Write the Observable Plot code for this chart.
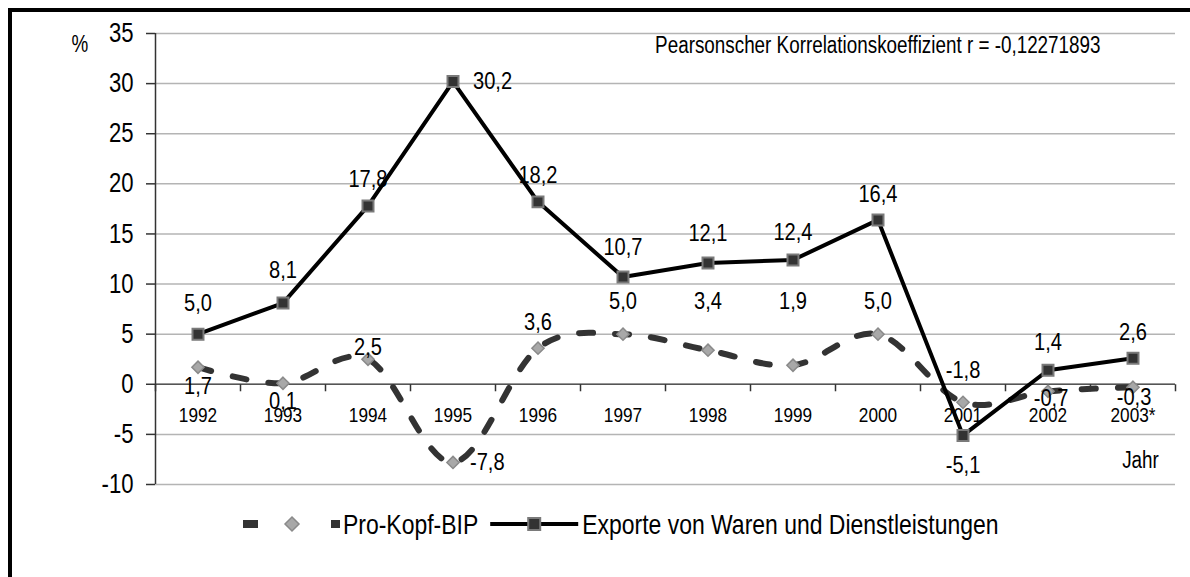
<!DOCTYPE html>
<html><head><meta charset="utf-8">
<script src="https://cdn.jsdelivr.net/npm/d3@7"></script>
<script src="https://cdn.jsdelivr.net/npm/@observablehq/plot@0.6"></script>
<style>
body{margin:0;background:#fff;font-family:"Liberation Sans",Arial,sans-serif;}
#wrap{position:relative;width:1190px;height:577px;overflow:hidden;background:#fff;}
#frame{position:absolute;left:8px;top:8px;width:1250px;height:650px;border-top:4px solid #000;border-left:4px solid #000;}
#chart{position:absolute;left:0;top:0;}
#legend{position:absolute;left:0;top:500px;}
</style></head><body>
<div id="wrap"><div id="frame"></div><div id="chart"></div><div id="legend"></div></div>
<script>
// ---- data ----
const years = ["1992","1993","1994","1995","1996","1997","1998","1999","2000","2001","2002","2003*"];
const proKopfBIP = [1.7, 0.1, 2.5, -7.8, 3.6, 5.0, 3.4, 1.9, 5.0, -1.8, -0.7, -0.3];
const exporte = [5.0, 8.1, 17.8, 30.2, 18.2, 10.7, 12.1, 12.4, 16.4, -5.1, 1.4, 2.6];
const yTicks = [-10, -5, 0, 5, 10, 15, 20, 25, 30, 35];
const seriesNames = ["Pro-Kopf-BIP", "Exporte von Waren und Dienstleistungen"];
const note = "Pearsonscher Korrelationskoeffizient r = -0,12271893";
const yLabel = "%";
const xLabel = "Jahr";

// ---- label offsets in px (style) ----
const bipLabelOffset = [[0,19],[0,18],[0,-12],[17,0],[0,-26],[0,-33],[0,-49],[0,-64],[0,-33],[0,-32],[3,7],[1,10]];
const expLabelOffset = [[0,-31],[0,-33],[0,-27],[20,0],[0,-27],[0,-30],[0,-30],[0,-28],[0,-26],[0,30],[0,-28],[0,-26]];

const fmt = v => v.toFixed(1).replace(".", ",");
const FONT = '"Liberation Sans",Arial,sans-serif';
const NARROW = 0.82;

const bip = years.map((y, i) => ({i, year: y, v: proKopfBIP[i], dx: bipLabelOffset[i][0], dy: bipLabelOffset[i][1]}));
const exp = years.map((y, i) => ({i, year: y, v: exporte[i], dx: expLabelOffset[i][0], dy: expLabelOffset[i][1]}));
const boundaries = d3.range(years.length + 1).map(k => k - 0.5);

const tickSym = {draw(ctx) { ctx.moveTo(0, 0); ctx.lineTo(0, 7); }};

// one text mark per label so each gets its own dx/dy offset
function labelMarks(data) {
  return data.map(d => Plot.text([d], {
    x: "i", y: "v", text: e => fmt(e.v), fontSize: 24.5, fill: "#000",
    dx: d.dx, dy: d.dy, textAnchor: d.dx > 8 ? "start" : "middle"
  }));
}

const chart = Plot.plot({
  width: 1190,
  height: 500,
  marginLeft: 155,
  marginRight: 15,
  marginTop: 33,
  marginBottom: 16,
  style: {fontFamily: FONT, background: "transparent", color: "#000"},
  x: {type: "linear", domain: [-0.5, years.length - 0.5], axis: null},
  y: {domain: [-10, 35], axis: null},
  marks: [
    Plot.gridY(yTicks, {stroke: "#b4b4b4", strokeOpacity: 1, strokeWidth: 1.5}),
    Plot.ruleY([0], {stroke: "#555", strokeWidth: 1.5}),
    Plot.ruleX([-0.5], {stroke: "#333", strokeWidth: 1.5}),
    Plot.axisY(yTicks, {tickSize: 9, tickPadding: 13, fontSize: 27, stroke: "#333", strokeWidth: 1.5, label: null, tickFormat: d => `${d}`}),
    Plot.dot(boundaries, {x: d => d, y: 0, symbol: tickSym, stroke: "#333", strokeWidth: 1.5}),
    Plot.text(years, {x: (d, i) => i, y: 0, text: d => d, dy: 31, fontSize: 21, fill: "#000"}),
    Plot.line(bip, {x: "i", y: "v", curve: "cardinal", tension: 0, stroke: "#333", strokeWidth: 6, strokeDasharray: "14,22"}),
    Plot.line(exp, {x: "i", y: "v", stroke: "#000", strokeWidth: 4}),
    Plot.dot(bip, {x: "i", y: "v", symbol: "diamond2", r: 5.5, fill: "#a8a8a8", stroke: "#8a8a8a", strokeWidth: 1.5}),
    Plot.dot(exp, {x: "i", y: "v", symbol: "square", r: 6.2, fill: "#333", stroke: "#7a7a7a", strokeWidth: 2}),
    ...labelMarks(bip),
    ...labelMarks(exp),
    Plot.text([note], {frameAnchor: "top-right", dx: -75, dy: 12, lineAnchor: "middle", textAnchor: "end", fontSize: 23, fill: "#000"}),
    Plot.text([yLabel], {frameAnchor: "top-left", dx: -84, dy: 11, lineAnchor: "middle", fontSize: 23, fill: "#000"}),
    Plot.text([xLabel], {frameAnchor: "bottom-right", dx: -35, dy: -24, lineAnchor: "middle", textAnchor: "middle", fontSize: 23, fill: "#000"})
  ]
});
document.getElementById("chart").appendChild(chart);

// condense every text horizontally (Arial Narrow look) around its own anchor
function condense(root) {
  root.querySelectorAll("text").forEach(t => {
    let tr = t.getAttribute("transform") || "";
    const x = t.getAttribute("x");
    if (x !== null && !isNaN(+x)) {
      tr += ` translate(${+x},0)`;
      t.removeAttribute("x");
    }
    t.setAttribute("transform", `${tr} scale(${NARROW},1)`.trim());
  });
}
condense(chart);

// ---- legend (svg below the chart) ----
const ns = "http://www.w3.org/2000/svg";
function mk(parent, tag, attrs) { const e = document.createElementNS(ns, tag); for (const k in attrs) e.setAttribute(k, attrs[k]); parent.appendChild(e); return e; }
const lg = document.createElementNS(ns, "svg");
lg.setAttribute("width", 1190); lg.setAttribute("height", 77);
lg.style.fontFamily = FONT;
document.getElementById("legend").appendChild(lg);
const cy = 24;
let x = 243;
mk(lg, "rect", {x: x, y: cy - 4, width: 15, height: 8, fill: "#333"});
mk(lg, "path", {d: `M${x + 49},${cy - 7} L${x + 56},${cy} L${x + 49},${cy + 7} L${x + 42},${cy} Z`, fill: "#a8a8a8", stroke: "#8a8a8a", "stroke-width": 1.5});
mk(lg, "rect", {x: x + 88, y: cy - 4, width: 9, height: 8, fill: "#333"});
x += 100;
function legendText(str) {
  const t = mk(lg, "text", {transform: `translate(${x},${cy}) scale(${NARROW},1)`, "font-size": 28, "dominant-baseline": "central", fill: "#000"});
  t.textContent = str;
  x += t.getComputedTextLength() * NARROW;
}
legendText(seriesNames[0]);
x += 12;
mk(lg, "line", {x1: x, x2: x + 88, y1: cy, y2: cy, stroke: "#000", "stroke-width": 4});
mk(lg, "rect", {x: x + 38, y: cy - 6, width: 12, height: 12, fill: "#333", stroke: "#7a7a7a", "stroke-width": 2});
x += 92;
legendText(seriesNames[1]);
</script>
</body></html>
